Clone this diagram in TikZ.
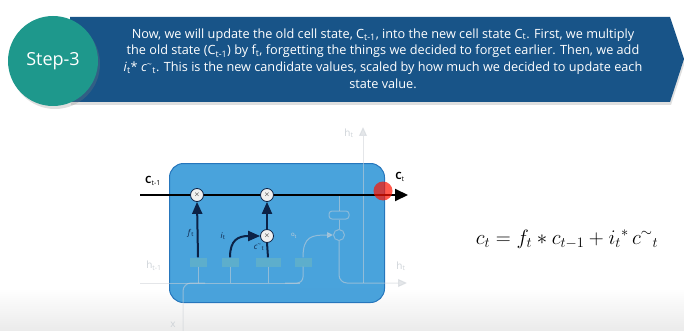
\documentclass[tikz,border=0pt]{standalone}
\usepackage{fontspec}
\setmainfont{Open Sans}
\usepackage{tikz}
\usetikzlibrary{arrows.meta, shadows}

\definecolor{bannerblue}{RGB}{24,84,136}
\definecolor{stepteal}{RGB}{30,152,140}
\definecolor{cellblue}{RGB}{58,155,217}
\definecolor{celledge}{RGB}{38,118,188}
\definecolor{gatenavy}{RGB}{12,34,70}
\definecolor{fadegray}{RGB}{205,210,215}
\definecolor{gatefill}{RGB}{140,200,168}

\begin{document}
\begin{tikzpicture}[x=1pt, y=-1pt,
    % the teal disc with the step number
    stepdisc/.style={circle, fill=stepteal, minimum size=90pt, inner sep=0pt,
        text=white, font=\fontsize{18}{18}\selectfont,
        drop shadow={opacity=.25, shadow xshift=2pt, shadow yshift=-3pt}},
    bannertext/.style={align=center, text=white, font=\fontsize{12.7}{16.8}\selectfont},
    % the big rounded box of the lstm cell
    cellbox/.style={rectangle, rounded corners=14pt, fill=cellblue, fill opacity=.92,
        draw=celledge, line width=1pt, minimum width=215pt, minimum height=139pt},
    % the parts that are greyed out in the picture
    fadeline/.style={draw=fadegray, opacity=.55, line width=1pt},
    fadetip/.style={-{Triangle[length=9pt, width=8pt]}},
    gatebox/.style={rectangle, fill=gatefill, opacity=.3, minimum width=17pt,
        minimum height=9pt, inner sep=0pt},
    fadelabel/.style={text=fadegray, font=\fontsize{10}{10}\selectfont},
    % pointwise multiplication
    mult/.style={circle, minimum size=13pt, inner sep=0pt, fill=gray!12,
        draw=gatenavy, line width=.8pt, font=\fontsize{7}{7}\selectfont},
    cellline/.style={draw=black, line width=2pt, -{Triangle[length=13pt, width=12pt]}},
    gatearrow/.style={draw=gatenavy, line width=2pt, -{Triangle[length=12pt, width=10pt]}},
    smalllabel/.style={text=gatenavy, font=\fontsize{8}{8}\selectfont},
    hotspot/.style={circle, fill=red!85!orange, opacity=.7, minimum size=19pt}
]
\useasboundingbox (0,0) rectangle (684,331);

% grey floor at the bottom of the slide
\shade[top color=white, bottom color=gray!16] (0,288) rectangle (684,331);

% the banner with the arrow point on the right
\fill[bannerblue, drop shadow={opacity=.25, shadow xshift=1pt, shadow yshift=-3pt}]
    (70,17) -- (670,17) -- (684,59) -- (670,102) -- (70,102) -- cycle;
\node[stepdisc] (step) at (53,61) {Step-3};
\node[bannertext] (text) at (383,58.5) {%
    Now, we will update the old cell state, C\textsubscript{t-1}, into the new cell state C\textsubscript{t}. First, we multiply\\
    the old state (C\textsubscript{t-1}) by f\textsubscript{t}, forgetting the things we decided to forget earlier. Then, we add\\
    \textit{i}\textsubscript{t}* \textit{c}\textsuperscript{\textasciitilde}\textsubscript{t}. This is the new candidate values, scaled by how much we decided to update each\\
    state value.};

% the cell itself
\node[cellbox] (cell) at (277,233) {};

% gates along the bottom (greyed out)
\node[gatebox] (fg) at (198,262) {};
\node[gatebox] (ig) at (230,262) {};
\node[gatebox, minimum width=25pt] (cg) at (268,262) {};
\node[gatebox] (og) at (303,262) {};
\node[rectangle, rounded corners=3pt, draw=fadegray, opacity=.5, line width=1pt,
    minimum width=20pt, minimum height=8pt, inner sep=0pt] (tanh) at (339,215) {};
\node[circle, draw=fadegray, opacity=.5, line width=1pt, minimum size=11pt,
    inner sep=0pt] (mulo) at (339,235) {};

% faint wires: h_{t-1} and x coming in, h_t going out
\coordinate (hin) at (140,283);
\coordinate (hout) at (407,283);
\coordinate (hup) at (363,127);
\coordinate (xin) at (183,331);
\draw[fadeline] (hin) -- (300,283);
\draw[fadeline, rounded corners=8pt] (xin) |- (205,283);
\draw[fadeline] (fg.south) -- (fg.south |- hin);
\draw[fadeline] (ig.south) -- (ig.south |- hin);
\draw[fadeline] (cg.south) -- (cg.south |- hin);
\draw[fadeline, rounded corners=6pt] (og.south) |- (285,283);
\draw[fadeline, rounded corners=8pt, fadetip] (mulo.south) |- (hout);
\draw[fadeline, fadetip] (363,283) -- (hup);
\draw[fadeline] (tanh.south) -- (mulo.north);
\draw[fadeline] (339,195) -- (tanh.north);
\draw[fadeline, -{Triangle[length=6pt, width=6pt]}] (og.north)
    .. controls (303,236) and (312,235) .. (mulo.west);
\node[fadelabel] (hlabin) at (154,266) {h\textsubscript{t-1}};
\node[fadelabel] (hlabout) at (401,266) {h\textsubscript{t}};
\node[fadelabel] (hlabup) at (349,133) {h\textsubscript{t}};
\node[fadelabel] (xlab) at (173,325) {x};
\node[fadelabel, font=\fontsize{6}{6}\selectfont] (olab) at (294,236) {o\textsubscript{t}};

% the cell state running along the top
\node[mult] (mulf) at (197,195) {$\times$};
\node[mult] (muli) at (267,195) {$\times$};
\node[mult] (mulc) at (267,236) {$\times$};
\coordinate (cin) at (140,195);
\coordinate (cout) at (408,195);
\draw[cellline] (cin) -- (mulf) -- (muli) -- (cout);
\node[hotspot] (hot) at (383,191) {};
\node[font=\fontsize{10}{10}\selectfont] (cprev) at (153,181) {\textbf{C}\textsubscript{t-1}};
\node[font=\fontsize{10}{10}\selectfont] (cnext) at (400,177) {\textbf{C}\textsubscript{t}};

% forget gate and input gate going into the cell state
\draw[gatearrow] (fg.north) -- (mulf.south);
\draw[gatearrow] (ig.north) .. controls (230,240) and (238,236) .. (mulc.west);
\draw[draw=gatenavy, line width=2pt] (cg.north) -- (mulc.south);
\draw[gatearrow] (mulc.north) -- (muli.south);
\node[smalllabel] (flab) at (191,233) {\textit{f}\textsubscript{t}};
\node[smalllabel] (ilab) at (223,236) {\textit{i}\textsubscript{t}};
\node[smalllabel] (clab) at (259,247) {\textit{c}\textsuperscript{\textasciitilde}\textsubscript{t}};

% the update rule
\node[font=\fontsize{22}{24}\selectfont] (rule) at (567,239)
    {$c_t = f_t * c_{t-1} + i_t{}^{*}\, c^{\sim}{}_{t}$};
\end{tikzpicture}
\end{document}
